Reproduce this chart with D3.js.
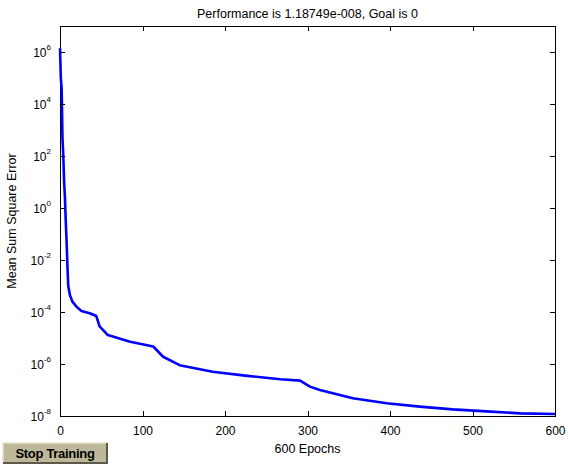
<!DOCTYPE html>
<html>
<head>
<meta charset="utf-8">
<script src="https://cdn.jsdelivr.net/npm/d3@7"></script>
<style>
  body { margin:0; background:#fff; }
  text { font-family: "Liberation Sans", Arial, sans-serif; }
</style>
</head>
<body>
<div id="chart"></div>
<script>
// training record
var epochs = [0, 1, 2, 3, 4, 5, 6, 7, 8, 9, 10, 12, 15, 20, 26, 36, 44, 48, 58, 70, 85, 113, 125, 145, 185, 227, 267, 291, 303, 315, 355, 396, 436, 476, 517, 558, 600];
var errors = [1.4e6, 1e5, 4e4, 5e2, 1e2, 1e1, 2.5, 3e-1, 5e-2, 6e-3, 1e-3, 4.5e-4, 2.5e-4, 1.6e-4, 1.1e-4, 9e-5, 7e-5, 2.8e-5, 1.3e-5, 1e-5, 7.2e-6, 4.7e-6, 1.9e-6, 9e-7, 5e-7, 3.5e-7, 2.6e-7, 2.3e-7, 1.35e-7, 1e-7, 4.8e-8, 3.1e-8, 2.3e-8, 1.8e-8, 1.5e-8, 1.26e-8, 1.19e-8];
var xTicks = [0, 100, 200, 300, 400, 500, 600];
var yExps = [-8, -6, -4, -2, 0, 2, 4, 6];

var W = 568, H = 465;
var margin = {top:26, bottom:49, left:60, right:13};
var width = W - margin.left - margin.right;
var height = H - margin.top - margin.bottom;

var svg = d3.select("#chart").append("svg")
    .attr("width", W).attr("height", H);

var g = svg.append("g")
    .attr("transform", "translate(" + margin.left + "," + margin.top + ")");

var x = d3.scaleLinear().domain([0, 600]).range([0, width]);
var y = d3.scaleLog().domain([1e-8, 1e7]).range([height, 0]);

// frame
g.append("rect")
    .attr("width", width).attr("height", height)
    .attr("fill", "#fff").attr("stroke", "#000").attr("stroke-width", 1)
    .attr("shape-rendering", "crispEdges");

// curve
var line = d3.line()
    .x(function(d, i){ return x(epochs[i]); })
    .y(function(d){ return y(d); });

g.append("path")
    .datum(errors)
    .attr("d", line)
    .attr("fill", "none")
    .attr("stroke", "#0000ff")
    .attr("stroke-width", 2.6)
    .attr("stroke-linejoin", "round");

// axes with inward ticks (bottom/left labelled, top/right bare)
var xAxis = d3.axisBottom(x).tickValues(xTicks).tickSizeInner(-5).tickSizeOuter(0).tickPadding(10);
var xTop = d3.axisTop(x).tickValues(xTicks).tickSizeInner(-5).tickSizeOuter(0).tickFormat("");
var yVals = yExps.map(function(e){ return Math.pow(10, e); });
var yAxis = d3.axisLeft(y).tickValues(yVals).tickSizeInner(-5).tickSizeOuter(0).tickFormat("");
var yRight = d3.axisRight(y).tickValues(yVals).tickSizeInner(-5).tickSizeOuter(0).tickFormat("");

var gx = g.append("g").attr("transform", "translate(0," + height + ")").call(xAxis);
g.append("g").call(xTop);
g.append("g").call(yAxis);
g.append("g").attr("transform", "translate(" + width + ",0)").call(yRight);

g.selectAll(".domain").remove();
g.selectAll(".tick line").attr("stroke", "#000").attr("shape-rendering", "crispEdges");
gx.selectAll(".tick text")
    .attr("font-size", 12).attr("fill", "#000")
    .attr("font-family", "Liberation Sans, Arial, sans-serif");

// y tick labels as 10^n
yExps.forEach(function(e){
    var t = g.append("text")
        .attr("x", -9)
        .attr("y", y(Math.pow(10, e)) + 5)
        .attr("text-anchor", "end")
        .attr("font-size", 12)
        .attr("fill", "#000");
    t.append("tspan").text("10");
    t.append("tspan").attr("dy", -7).attr("font-size", 8).text(e);
});

// title and labels
svg.append("text")
    .attr("x", margin.left + width/2)
    .attr("y", 18)
    .attr("text-anchor", "middle")
    .attr("font-size", 12.5)
    .text("Performance is 1.18749e-008, Goal is 0");

svg.append("text")
    .attr("transform", "translate(16," + (margin.top + height/2) + ") rotate(-90)")
    .attr("text-anchor", "middle")
    .attr("font-size", 12.5)
    .text("Mean Sum Square Error");

svg.append("text")
    .attr("x", margin.left + width/2)
    .attr("y", 453)
    .attr("text-anchor", "middle")
    .attr("font-size", 12.5)
    .text("600 Epochs");

// stop training button
var btn = svg.append("g").attr("transform", "translate(3,443)");
btn.append("rect")
    .attr("width", 104).attr("height", 20)
    .attr("fill", "#bdb89a");
btn.append("path")
    .attr("d", "M0,20 L0,0 L104,0")
    .attr("fill", "none").attr("stroke", "#e6e2cc").attr("stroke-width", 1.5);
btn.append("path")
    .attr("d", "M104,0 L104,20 L0,20")
    .attr("fill", "none").attr("stroke", "#5c5948").attr("stroke-width", 2);
btn.append("text")
    .attr("x", 52).attr("y", 15)
    .attr("text-anchor", "middle")
    .attr("font-size", 13)
    .attr("font-weight", "bold")
    .attr("font-family", "DejaVu Sans, sans-serif")
    .attr("letter-spacing", -0.3)
    .text("Stop Training");
</script>
</body>
</html>
